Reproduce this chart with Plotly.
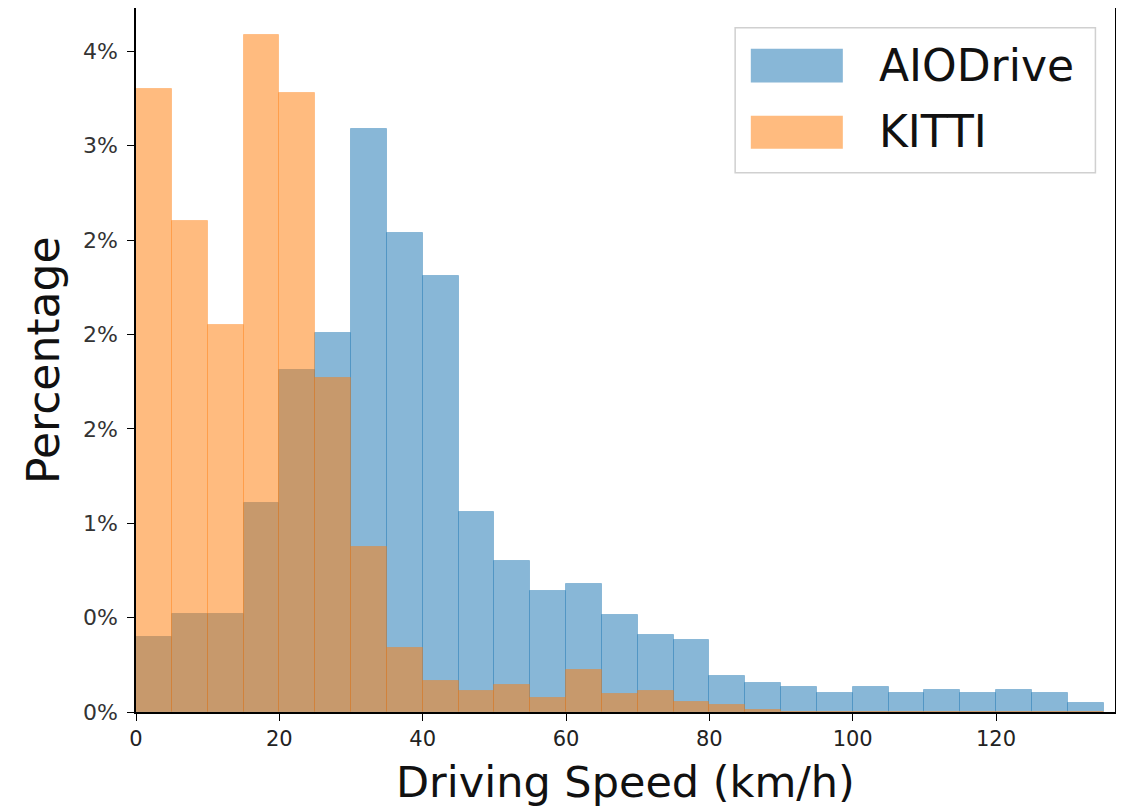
import plotly.graph_objects as go

# ---- data (percent of samples per 5 km/h bin) ----
bin_start = list(range(0, 135, 5))  # 0,5,...,130
bin_width = 5

aiodrive = [0.40, 0.52, 0.52, 1.11, 1.81, 2.01, 3.09, 2.54, 2.31, 1.06,
            0.80, 0.64, 0.68, 0.515, 0.41, 0.38, 0.19, 0.155, 0.13, 0.10,
            0.13, 0.10, 0.115, 0.10, 0.115, 0.10, 0.05]
kitti = [3.30, 2.60, 2.05, 3.585, 3.28, 1.77, 0.875, 0.34, 0.165, 0.11,
         0.145, 0.075, 0.225, 0.095, 0.11, 0.055, 0.035, 0.01, 0.0, 0.0,
         0.0, 0.0, 0.0, 0.0, 0.0, 0.0, 0.0]

y_tickvals = [0, 0.5, 1.0, 1.5, 2.0, 2.5, 3.0, 3.5]
y_ticktext = ["0%", "0%", "1%", "2%", "2%", "2%", "3%", "4%"]
x_tickvals = [0, 20, 40, 60, 80, 100, 120]

series_names = ["AIODrive", "KITTI"]
fill_colors = ["rgba(31,119,180,0.53)", "rgba(255,127,14,0.53)"]
edge_colors = ["rgba(31,119,180,0.35)", "rgba(255,127,14,0.30)"]

centers = [b + bin_width / 2 for b in bin_start]

fig = go.Figure()
for name, vals, fc, ec in zip(series_names, [aiodrive, kitti], fill_colors, edge_colors):
    fig.add_trace(go.Bar(
        x=centers, y=vals, width=[bin_width] * len(centers), name=name,
        marker=dict(color=fc, line=dict(color=ec, width=1)),
        showlegend=False,
    ))

font_family = "DejaVu Sans"

# page body has an 8px margin, so the figure is sized to fit the window
fig.update_layout(
    width=1116, height=801,
    barmode="overlay", bargap=0,
    plot_bgcolor="white", paper_bgcolor="white",
    margin=dict(l=128, r=9, t=0, b=97, autoexpand=False),
    font=dict(family=font_family, color="#111"),
)
fig.update_xaxes(
    range=[0, 136.6], tickvals=x_tickvals,
    showline=True, linecolor="black", linewidth=1.5, mirror=True,
    ticks="outside", ticklen=7, tickwidth=1.3, tickcolor="black",
    showgrid=False, zeroline=False,
    tickfont=dict(size=21, family=font_family, color="#222"),
)
fig.update_yaxes(
    range=[0, 3.73], tickvals=y_tickvals, ticktext=y_ticktext,
    showline=True, linecolor="black", linewidth=1.5, mirror=True,
    ticks="outside", ticklen=7, tickwidth=1.3, tickcolor="black",
    showgrid=False, zeroline=False, ticklabelstandoff=5,
    tickfont=dict(size=22, family=font_family, color="#333"),
)

# axis titles
fig.add_annotation(xref="paper", yref="paper", x=0.50, y=-0.099, text="Driving Speed (km/h)",
                   showarrow=False, xanchor="center", yanchor="middle",
                   font=dict(size=43, family=font_family, color="#111"))
fig.add_annotation(xref="paper", yref="paper", x=-0.095, y=0.50, text="Percentage",
                   showarrow=False, xanchor="center", yanchor="middle", textangle=-90,
                   font=dict(size=44, family=font_family, color="#111"))

# ---- legend drawn in paper coordinates ----
fig.add_shape(type="rect", xref="paper", yref="paper", x0=0.612, x1=0.980, y0=0.766, y1=0.972,
              line=dict(color="#d0d0d0", width=1.5), fillcolor="rgba(255,255,255,0.8)", layer="above")
leg_y = [(0.894, 0.942), (0.800, 0.847)]
leg_text_y = [0.918, 0.824]
for name, fc, (y0, y1), ty in zip(series_names, fill_colors, leg_y, leg_text_y):
    fig.add_shape(type="rect", xref="paper", yref="paper", x0=0.628, x1=0.722, y0=y0, y1=y1,
                  line=dict(width=0), fillcolor=fc, layer="above")
    fig.add_annotation(xref="paper", yref="paper", x=0.757, y=ty, text=name, showarrow=False,
                       xanchor="left", yanchor="middle",
                       font=dict(size=44, family=font_family, color="#111"))

fig.write_html("out.html")
